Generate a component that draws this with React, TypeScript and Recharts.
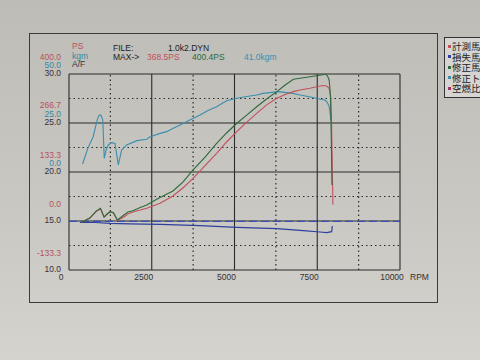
import { Line, LineChart, ReferenceLine, XAxis, YAxis } from 'recharts';

// engine speed grid (rpm)
const rpmTicks = [0, 2500, 5000, 7500, 10000];
const rpmMinor = [1250, 3750, 6250, 8750];

// PS scale drives the grid rows; A/F and kgm labels share the same rows
const psTicks = [-133.33, 0, 133.33, 266.67, 400];
const psMinor = [-66.67, 66.67, 200, 333.33];
const psLabels = ['-133.3', '0.0', '133.3', '266.7', '400.0'];
const kgmLabels = ['', '', '0.0', '25.0', '50.0'];
const afLabels = ['10.0', '15.0', '20.0', '25.0', '30.0'];

// 計測馬力 (measured PS)
const measuredRpm = [380, 630, 820, 950, 1060, 1150, 1240, 1340, 1460, 1590, 1780, 1930, 2350, 2750, 3140, 3440, 3750, 4110, 4460, 4760, 5070, 5370, 5670, 5970, 6280, 6530, 6780, 6980, 7280, 7520, 7670, 7780, 7855, 7900, 7930, 7945, 7960, 7975];
const measuredPs = [-3.5, 8, 26, 33, 10.5, 18.5, 24.5, 22, 2.5, 6.8, 19, 24.5, 34.6, 48.2, 68, 89.8, 116, 151, 184, 215, 243, 269, 293, 316, 334, 344, 352, 356.5, 361, 366, 368.5, 367.3, 362, 343, 275, 193, 112, 44];

// 修正馬力 (corrected PS)
const correctedRpm = [380, 630, 820, 950, 1060, 1150, 1240, 1340, 1460, 1590, 1780, 1930, 2150, 2350, 2650, 2900, 3140, 3440, 3750, 4110, 4460, 4760, 5070, 5370, 5670, 5970, 6280, 6530, 6780, 6980, 7180, 7330, 7480, 7670, 7760, 7820, 7860, 7885, 7905, 7915, 7930, 7945];
const correctedPs = [-3.5, 8, 27, 34.6, 11, 19, 25.3, 23, 2.7, 11.7, 24.5, 28, 36.7, 43.6, 59, 70.8, 81.6, 106, 139, 174, 211, 239.5, 266, 288, 311, 332, 352, 370, 385.6, 388.3, 391, 393.2, 395.4, 398.1, 400.4, 392.7, 383.7, 356.5, 329, 275, 193, 98];

// 修正トルク (corrected torque, kgm)
const torqueRpm = [410, 570, 730, 850, 905, 960, 1020, 1065, 1120, 1190, 1290, 1390, 1490, 1590, 1740, 2050, 2350, 2450, 2750, 2950, 3150, 3450, 3650, 3960, 4200, 4460, 4760, 5070, 5370, 5670, 5860, 6070, 6310, 6580, 6770, 6980, 7220, 7480, 7640, 7730, 7795, 7855, 7885, 7915];
const torqueKgm = [4.1, 12.2, 18, 26.5, 28.8, 29.1, 26.5, 7, 11.2, 13.8, 15, 14.6, 3.6, 11.2, 13.8, 16, 16.7, 18, 19.7, 20.6, 22.3, 24.8, 26.5, 29.1, 31.4, 33.3, 36.4, 37.6, 38.5, 39.3, 40.1, 40.5, 41.0, 40.5, 40.1, 39.3, 38.5, 37.6, 37, 36.7, 35.7, 33.7, 30.6, 26.5];

// 損失馬力 (loss PS)
const lossRpm = [330, 790, 1240, 1840, 2750, 3960, 5070, 6280, 7080, 7580, 7785, 7935, 7955];
const lossPs = [-3.5, -4.1, -6.3, -7.6, -9, -12.8, -17.1, -20.9, -26.4, -29.9, -31.8, -29.1, -13.6];

const dashedRefPs = -1;

const legendNames = ['計測馬力', '損失馬力', '修正馬力', '修正トルク', '空燃比'];
const legendColors = ['#c4505c', '#2f3f9e', '#2e6a3a', '#3b8fae', '#a0306a'];

const toPoints = (xs: number[], ys: number[]) => xs.map((rpm, i) => ({ rpm, v: ys[i] }));

const measured = toPoints(measuredRpm, measuredPs);
const corrected = toPoints(correctedRpm, correctedPs);
const torque = toPoints(torqueRpm, torqueKgm);
const loss = toPoints(lossRpm, lossPs);

const FONT = '"Liberation Sans", Arial, sans-serif';
const GRID = '#2b2b2b';
const AXIS_WIDTH = 69;
const LABEL_RIGHT = AXIS_WIDTH - 8;

function RowTick(props: any) {
   const { y, index } = props;
   return (
      <g fontFamily={FONT} fontSize={8.5}>
         <text x={LABEL_RIGHT} y={y - 14.5} fill="#b8505e" textAnchor="end">{psLabels[index]}</text>
         {kgmLabels[index] && (
            <text x={LABEL_RIGHT} y={y - 6} fill="#3a88a0" textAnchor="end">{kgmLabels[index]}</text>
         )}
         <text x={LABEL_RIGHT} y={y + 2} fill="#3a3040" textAnchor="end">{afLabels[index]}</text>
      </g>
   );
}

function RpmTick(props: any) {
   const { x, y, payload } = props;
   return (
      <text x={x - 8} y={y + 2} fontFamily={FONT} fontSize={8.5} fill="#333" textAnchor="middle">
         {payload.value}
      </text>
   );
}

function LegendBox() {
   return (
      <div
         style={{
            position: 'absolute',
            left: 444,
            top: 37,
            width: 40,
            border: '1px solid #333',
            borderRight: 'none',
            padding: '3px 0 3px 3px',
            background: '#d6d5d1',
            fontFamily: '"Noto Sans CJK JP", sans-serif',
            fontSize: 9.5,
            lineHeight: '10.5px',
            color: '#222',
            whiteSpace: 'nowrap',
            overflow: 'hidden',
         }}
      >
         {legendNames.map((name, i) => (
            <div key={name} style={{ display: 'flex', alignItems: 'center', height: 10.5 }}>
               <span style={{ width: 3, height: 3, background: legendColors[i], marginRight: 1, flex: 'none' }} />
               {name}
            </div>
         ))}
      </div>
   );
}

export default function App() {
   const label = { position: 'absolute' as const, fontFamily: FONT, fontSize: 8.5, lineHeight: '9px', whiteSpace: 'nowrap' as const };
   return (
      <div
         style={{
            position: 'absolute',
            left: 0,
            top: 0,
            width: 480,
            height: 360,
            overflow: 'hidden',
            background: 'linear-gradient(180deg, #bdbcb7 0%, #c9c8c3 60%, #d4d3ce 100%)',
         }}
      >
         {/* printed frame */}
         <div style={{ position: 'absolute', left: 29, top: 33, width: 407, height: 268, border: '1px solid #3a3a3a' }} />

         <div style={{ ...label, left: 72, top: 42, color: '#b8505e' }}>PS</div>
         <div style={{ ...label, left: 72, top: 52, color: '#3a88a0' }}>kgm</div>
         <div style={{ ...label, left: 72, top: 60, color: '#3a3040' }}>A/F</div>
         <div style={{ ...label, left: 113, top: 44, color: '#222' }}>FILE:</div>
         <div style={{ ...label, left: 168, top: 44, color: '#222' }}>1.0k2.DYN</div>
         <div style={{ ...label, left: 113, top: 53, color: '#222' }}>MAX-&gt;</div>
         <div style={{ ...label, left: 147, top: 53, color: '#c4505c' }}>368.5PS</div>
         <div style={{ ...label, left: 192, top: 53, color: '#2e6a3a' }}>400.4PS</div>
         <div style={{ ...label, left: 244, top: 53, color: '#3b8fae' }}>41.0kgm</div>
         <div style={{ ...label, left: 410, top: 273, color: '#333' }}>RPM</div>

         <LegendBox />

         <LineChart
            width={480}
            height={360}
            margin={{ top: 74, right: 80, bottom: 60, left: 0 }}
            style={{ position: 'absolute', left: 0, top: 0 }}
         >
            <XAxis
               dataKey="rpm"
               type="number"
               domain={[0, 10000]}
               ticks={rpmTicks}
               axisLine={false}
               tickLine={false}
               tick={<RpmTick />}
               height={30}
               allowDataOverflow
            />
            <YAxis
               yAxisId="ps"
               domain={[-133.33, 400]}
               ticks={psTicks}
               axisLine={false}
               tickLine={false}
               tick={<RowTick />}
               width={AXIS_WIDTH}
               interval={0}
               allowDataOverflow
            />
            <YAxis yAxisId="kgm" domain={[-50, 50]} hide allowDataOverflow />

            {rpmMinor.map((v) => (
               <ReferenceLine key={`vm${v}`} yAxisId="ps" x={v} stroke={GRID} strokeDasharray="1.5 3" strokeWidth={1.2} />
            ))}
            {psMinor.map((v) => (
               <ReferenceLine key={`hm${v}`} yAxisId="ps" y={v} stroke={GRID} strokeDasharray="1.5 3" strokeWidth={1.2} />
            ))}
            {rpmTicks.map((v) => (
               <ReferenceLine key={`v${v}`} yAxisId="ps" x={v} stroke={GRID} strokeWidth={1.1} />
            ))}
            {psTicks.map((v) => (
               <ReferenceLine key={`h${v}`} yAxisId="ps" y={v} stroke={GRID} strokeWidth={1.1} />
            ))}

            <ReferenceLine yAxisId="ps" y={dashedRefPs} stroke="#3a50b4" strokeDasharray="8 4" strokeWidth={1.2} />

            <Line data={loss} dataKey="v" yAxisId="ps" stroke="#2f3f9e" strokeWidth={1.2} dot={false} isAnimationActive={false} />
            <Line data={torque} dataKey="v" yAxisId="kgm" stroke="#3b8fae" strokeWidth={1.1} dot={false} isAnimationActive={false} />
            <Line data={measured} dataKey="v" yAxisId="ps" stroke="#c4505c" strokeWidth={1.1} dot={false} isAnimationActive={false} />
            <Line data={corrected} dataKey="v" yAxisId="ps" stroke="#2e6a3a" strokeWidth={1.1} dot={false} isAnimationActive={false} />
         </LineChart>
      </div>
   );
}
